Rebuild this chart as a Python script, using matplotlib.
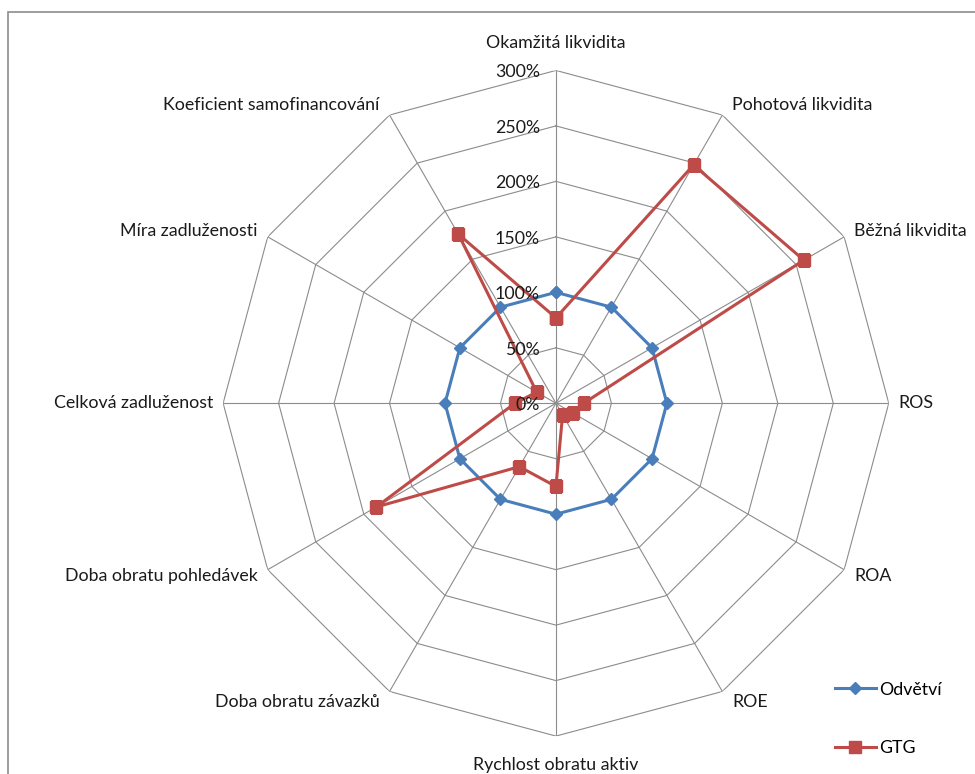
import matplotlib.pyplot as plt
import numpy as np

plt.rcParams['font.family'] = ['Lato', 'DejaVu Sans']

categories = [
    "Okamžitá likvidita", "Pohotová likvidita", "Běžná likvidita", "ROS",
    "ROA", "ROE", "Rychlost obratu aktiv", "Doba obratu závazků",
    "Doba obratu pohledávek", "Celková zadluženost", "Míra zadluženosti",
    "Koeficient samofinancování",
]
odvetvi = [100, 100, 100, 100, 100, 100, 100, 100, 100, 100, 100, 100]
gtg = [77, 248, 258, 25, 18, 12, 75, 66, 187, 37, 20, 176]
r_ticks = [0, 50, 100, 150, 200, 250, 300]
r_labels = ["0%", "50%", "100%", "150%", "200%", "250%", "300%"]

GRID = "#8c8c8c"
BLUE = "#4a7ebb"
RED = "#be4b48"
TXT = "#1a1a1a"
FS = 12.8

fig = plt.figure(figsize=(9.75, 7.74), dpi=100)
ax = fig.add_axes([0.2287, 0.049, 0.683, 0.860], projection="polar")
ax.set_theta_zero_location("N")
ax.set_theta_direction(-1)
ax.set_ylim(0, r_ticks[-1])
ax.grid(False)
ax.spines["polar"].set_visible(False)
ax.set_xticks([])
ax.set_yticks([])
ax.patch.set_alpha(0)

n = len(categories)
angles = np.linspace(0, 2 * np.pi, n, endpoint=False)
closed = np.append(angles, angles[0])

# polygon grid
for r in r_ticks[1:]:
    ax.plot(closed, [r] * (n + 1), color=GRID, lw=0.8, zorder=1)
for a in angles:
    ax.plot([a, a], [0, r_ticks[-1]], color=GRID, lw=0.8, zorder=1)

ax.plot(closed, odvetvi + odvetvi[:1], color=BLUE, lw=2.2, marker="D",
        markersize=6.5, label="Odvětví", zorder=3)
ax.plot(closed, gtg + gtg[:1], color=RED, lw=2.2, marker="s",
        markersize=9, label="GTG", zorder=4)

# radial tick labels left of the top spoke
for r, lab in zip(r_ticks, r_labels):
    ax.annotate(lab, xy=(0, r), xytext=(-16, -2), textcoords="offset pixels",
                ha="right", va="center", fontsize=FS, color=TXT, zorder=6)

# category labels
for a, cat in zip(angles, categories):
    s, c = np.sin(a), np.cos(a)
    if abs(c) > 0.99:
        ha = "center"
        va = "bottom" if c > 0 else "top"
        off = (0, 19 if c > 0 else -21)
    else:
        ha = "left" if s > 0 else "right"
        va = "center"
        off = (10 * np.sign(s), 12 * c)
    ax.annotate(cat, xy=(a, r_ticks[-1]), xytext=off, textcoords="offset pixels",
                ha=ha, va=va, fontsize=FS, color=TXT, annotation_clip=False)

fig.legend(loc="upper left", bbox_to_anchor=(0.840, 0.140), frameon=False,
           fontsize=FS, labelspacing=2.4, handlelength=2.3, handletextpad=0.2)

# chart area border
fig.patches.append(plt.Rectangle((8 / 975, -0.2), 1.2, 1.2 - 12 / 774,
                                 transform=fig.transFigure, fill=False,
                                 edgecolor="#8c8c8c", lw=1.2))

fig.savefig("out.png", dpi=100)
